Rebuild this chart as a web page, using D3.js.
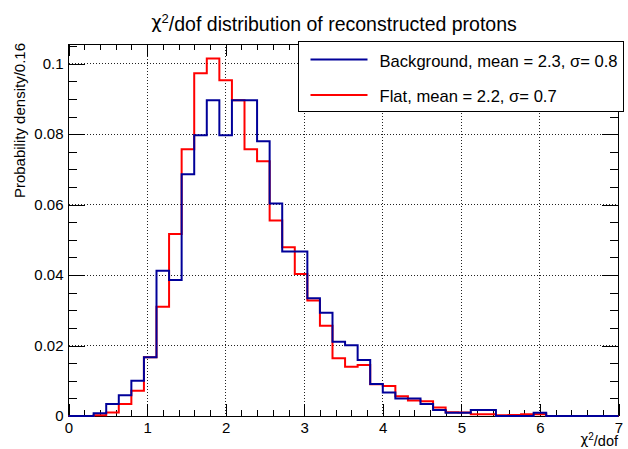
<!DOCTYPE html>
<html>
<head>
<meta charset="utf-8">
<script src="https://cdn.jsdelivr.net/npm/d3@7"></script>
<style>
  html, body { margin: 0; padding: 0; background: #fff; }
  svg { display: block; font-family: "Liberation Sans", Arial, Helvetica, sans-serif; }
  .chi { font-family: "DejaVu Sans", sans-serif; }
</style>
</head>
<body>
<svg id="chart" width="628" height="449"></svg>
<script>
// Histogram binning (chi2/dof), 0.16 wide bins starting at 0
const BIN_WIDTH = 0.16;

// Probability density per bin
const background = [
  0, 0, 0.0008, 0.0034, 0.0059, 0.0100, 0.0167, 0.0412, 0.0386, 0.0686,
  0.0797, 0.0896, 0.0797, 0.0896, 0.0896, 0.0780, 0.0603, 0.0467, 0.0467, 0.0334,
  0.0293, 0.0211, 0.0201, 0.0159, 0.0091, 0.0067, 0.0050, 0.0050, 0.0034, 0.0017,
  0.0009, 0.0009, 0.0017, 0.0017, 0, 0, 0, 0.0009, 0, 0,
  0, 0, 0, 0
];
const flat = [
  0, 0, 0.0002, 0.0010, 0.0034, 0.0072, 0.0167, 0.0310, 0.0517, 0.0757,
  0.0973, 0.1015, 0.0953, 0.0896, 0.0757, 0.0723, 0.0555, 0.0479, 0.0403, 0.0328,
  0.0256, 0.0164, 0.0140, 0.0145, 0.0090, 0.0085, 0.0056, 0.0044, 0.0042, 0.0024,
  0.0011, 0.0010, 0.0005, 0.0005, 0.0002, 0.0003, 0.0005, 0.0005, 0, 0,
  0, 0, 0, 0
];

const seriesNames = ["Background, mean = 2.3, \u03c3= 0.8", "Flat, mean = 2.2, \u03c3= 0.7"];
const seriesColors = ["#000099", "#ff0000"];

const xMajorTicks = [0, 1, 2, 3, 4, 5, 6, 7];
const yMajorTicks = [0, 0.02, 0.04, 0.06, 0.08, 0.1];
const xDomain = [0, 7];
const yDomain = [0, 0.1056];

const svg = d3.select("#chart");
const L = 68.5, R = 618.5, T = 44, B = 416;

const x = d3.scaleLinear().domain(xDomain).range([L, R]);
const y = d3.scaleLinear().domain(yDomain).range([B, T]);

const xMinor = d3.range(0, 7.0001, 0.2).filter(v => Math.abs(v - Math.round(v)) > 1e-6);
const yMinor = d3.range(0, 0.1056, 0.005).filter(v => yMajorTicks.every(t => Math.abs(t - v) > 1e-6));

// grid
const grid = svg.append("g").attr("stroke", "#222").attr("stroke-width", 1)
  .attr("stroke-dasharray", "1,2").attr("shape-rendering", "crispEdges");
xMajorTicks.slice(1, -1).forEach(v => {
  grid.append("line").attr("x1", x(v)).attr("x2", x(v)).attr("y1", T).attr("y2", B);
});
yMajorTicks.slice(1).forEach(v => {
  grid.append("line").attr("x1", L).attr("x2", R).attr("y1", y(v)).attr("y2", y(v));
});

// axes with inward ticks
function styleAxis(g) {
  g.select(".domain").remove();
  g.selectAll("line").attr("stroke", "#000").attr("shape-rendering", "crispEdges");
  g.selectAll("text").attr("fill", "#000").style("font-size", "15px")
    .style("font-family", "'Liberation Sans', Arial, sans-serif");
}
const fmtY = d => d === 0 ? "0" : String(+d.toFixed(2));

svg.append("g").attr("transform", `translate(0,${B})`)
  .call(d3.axisBottom(x).tickValues(xMajorTicks).tickSize(-12).tickPadding(6).tickFormat(d3.format("d")))
  .call(styleAxis);
svg.append("g").attr("transform", `translate(0,${B})`)
  .call(d3.axisBottom(x).tickValues(xMinor).tickSize(-6).tickFormat(""))
  .call(styleAxis);
svg.append("g").attr("transform", `translate(0,${T})`)
  .call(d3.axisTop(x).tickValues(xMajorTicks).tickSize(-12).tickFormat(""))
  .call(styleAxis);
svg.append("g").attr("transform", `translate(0,${T})`)
  .call(d3.axisTop(x).tickValues(xMinor).tickSize(-6).tickFormat(""))
  .call(styleAxis);

svg.append("g").attr("transform", `translate(${L},0)`)
  .call(d3.axisLeft(y).tickValues(yMajorTicks).tickSize(-16.5).tickPadding(5).tickFormat(fmtY))
  .call(styleAxis);
svg.append("g").attr("transform", `translate(${L},0)`)
  .call(d3.axisLeft(y).tickValues(yMinor).tickSize(-8.3).tickFormat(""))
  .call(styleAxis);
svg.append("g").attr("transform", `translate(${R},0)`)
  .call(d3.axisRight(y).tickValues(yMajorTicks).tickSize(-16.5).tickFormat(""))
  .call(styleAxis);
svg.append("g").attr("transform", `translate(${R},0)`)
  .call(d3.axisRight(y).tickValues(yMinor).tickSize(-8.3).tickFormat(""))
  .call(styleAxis);

// frame
svg.append("rect").attr("x", L).attr("y", T).attr("width", R - L).attr("height", B - T)
  .attr("fill", "none").attr("stroke", "#000").attr("stroke-width", 1)
  .attr("shape-rendering", "crispEdges");

// histograms
svg.append("clipPath").attr("id", "xclip").append("rect")
  .attr("x", L - 3).attr("y", 0).attr("width", R - L + 3).attr("height", 449);

const stepLine = d3.line().x(d => x(d[0])).y(d => y(d[1])).curve(d3.curveStepAfter);
function binPoints(vals) {
  const pts = vals.map((v, i) => [i * BIN_WIDTH, v]);
  pts.push([vals.length * BIN_WIDTH, vals[vals.length - 1]]);
  return pts;
}
const hg = svg.append("g").attr("clip-path", "url(#xclip)");
[[flat, seriesColors[1]], [background, seriesColors[0]]].forEach(([vals, col]) => {
  hg.append("path").attr("d", stepLine(binPoints(vals)))
    .attr("fill", "none").attr("stroke", col).attr("stroke-width", 2)
    .attr("stroke-linejoin", "miter");
});

// title
const title = svg.append("text").attr("x", 334).attr("y", 28).attr("text-anchor", "middle")
  .style("font-size", "19.5px").attr("fill", "#000");
title.append("tspan").attr("class", "chi").style("font-size", "18px").text("\u03c7");
title.append("tspan").attr("dy", "-0.42em").style("font-size", "13px").text("2");
title.append("tspan").attr("dy", "0.42em").text("/dof distribution of reconstructed protons");

// axis titles
const xt = svg.append("text").attr("x", 618).attr("y", 444).attr("text-anchor", "end")
  .style("font-size", "14.5px").attr("fill", "#000");
xt.append("tspan").attr("class", "chi").style("font-size", "13.5px").text("\u03c7");
xt.append("tspan").attr("dy", "-0.42em").style("font-size", "10px").text("2");
xt.append("tspan").attr("dy", "0.42em").text("/dof");

svg.append("text").attr("transform", "translate(24.5,43) rotate(-90)")
  .attr("text-anchor", "end").style("font-size", "15px").attr("fill", "#000")
  .text("Probability density/0.16");

// legend
const lg = svg.append("g");
lg.append("rect").attr("x", 298.5).attr("y", 41.5).attr("width", 325).attr("height", 70)
  .attr("fill", "#fff").attr("stroke", "#000").attr("stroke-width", 1);
const legendRows = [59.5, 95];
seriesNames.forEach((name, i) => {
  lg.append("line").attr("x1", 310.5).attr("x2", 367.5)
    .attr("y1", legendRows[i]).attr("y2", legendRows[i])
    .attr("stroke", seriesColors[i]).attr("stroke-width", 2);
  lg.append("text").attr("x", 379.5).attr("y", legendRows[i] + 7)
    .style("font-size", "16.6px").attr("fill", "#000").text(name);
});
</script>
</body>
</html>
